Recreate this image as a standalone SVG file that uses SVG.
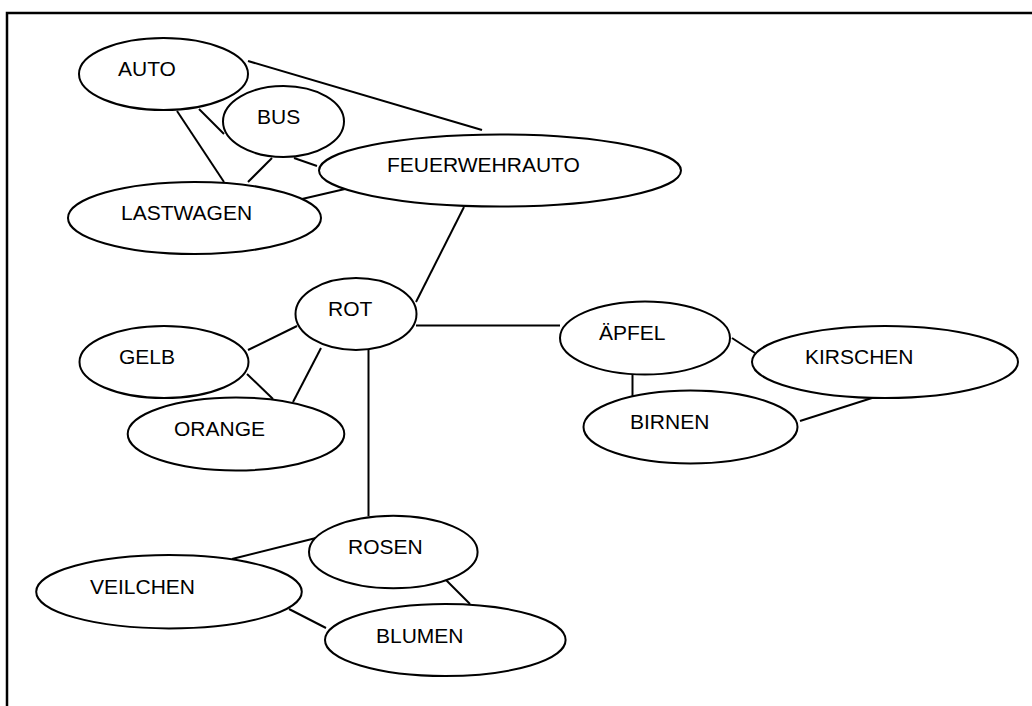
<svg xmlns="http://www.w3.org/2000/svg" width="1032" height="706" viewBox="0 0 1032 706">
  <style>
    .node ellipse { fill: #ffffff; stroke: #000000; stroke-width: 2; }
    .node text { font-family: "Liberation Sans", Arial, sans-serif; font-size: 21px; fill: #000000; }
    #connectors line { stroke: #000000; stroke-width: 2; }
    .frame { stroke: #000000; stroke-width: 2.5; fill: none; }
  </style>
  <rect width="1032" height="706" fill="#ffffff"/>
  <!-- page frame: top and left edges -->
  <path class="frame" d="M7,740 L7,13 L1040,13"/>

  <g id="connectors">
    <line x1="248" y1="61" x2="482" y2="130"/>
    <line x1="199" y1="109" x2="224" y2="134"/>
    <line x1="177" y1="111" x2="224" y2="182"/>
    <line x1="272" y1="158" x2="248" y2="182"/>
    <line x1="294" y1="158" x2="317" y2="166"/>
    <line x1="302" y1="199" x2="345" y2="189"/>
    <line x1="464" y1="207" x2="416" y2="302"/>
    <line x1="416" y1="325.5" x2="560" y2="325.5"/>
    <line x1="297" y1="326" x2="248" y2="350"/>
    <line x1="321" y1="348" x2="293" y2="402"/>
    <line x1="247" y1="374" x2="273" y2="399"/>
    <line x1="368.5" y1="350" x2="368.5" y2="516"/>
    <line x1="732" y1="338" x2="755" y2="353"/>
    <line x1="632.5" y1="374" x2="632.5" y2="397"/>
    <line x1="872" y1="398" x2="800" y2="421"/>
    <line x1="316" y1="538" x2="232" y2="559"/>
    <line x1="289" y1="609" x2="326" y2="628"/>
    <line x1="446" y1="580" x2="470" y2="604"/>
  </g>

  <g id="node-auto" class="node">
    <ellipse cx="163.5" cy="74" rx="84.5" ry="36"/>
    <text x="118" y="76">AUTO</text>
  </g>
  <g id="node-bus" class="node">
    <ellipse cx="283.5" cy="121.5" rx="60.5" ry="35.5"/>
    <text x="257" y="124">BUS</text>
  </g>
  <g id="node-lastwagen" class="node">
    <ellipse cx="194.5" cy="218" rx="126.5" ry="36"/>
    <text x="121" y="220">LASTWAGEN</text>
  </g>
  <g id="node-feuerwehrauto" class="node">
    <ellipse cx="500" cy="170.5" rx="181" ry="36"/>
    <text x="387" y="172">FEUERWEHRAUTO</text>
  </g>
  <g id="node-rot" class="node">
    <ellipse cx="356" cy="314" rx="60.5" ry="36"/>
    <text x="328" y="316">ROT</text>
  </g>
  <g id="node-gelb" class="node">
    <ellipse cx="164" cy="362" rx="84.5" ry="36"/>
    <text x="119" y="364">GELB</text>
  </g>
  <g id="node-orange" class="node">
    <ellipse cx="236" cy="434" rx="108.3" ry="36.5"/>
    <text x="174" y="436">ORANGE</text>
  </g>
  <g id="node-aepfel" class="node">
    <ellipse cx="645" cy="338" rx="85" ry="36.5"/>
    <text x="599" y="340">ÄPFEL</text>
  </g>
  <g id="node-kirschen" class="node">
    <ellipse cx="885" cy="362" rx="133" ry="36"/>
    <text x="805" y="364">KIRSCHEN</text>
  </g>
  <g id="node-birnen" class="node">
    <ellipse cx="690.5" cy="427" rx="107" ry="36.5"/>
    <text x="630" y="429">BIRNEN</text>
  </g>
  <g id="node-rosen" class="node">
    <ellipse cx="393.3" cy="552" rx="84.3" ry="36.3"/>
    <text x="348" y="554">ROSEN</text>
  </g>
  <g id="node-veilchen" class="node">
    <ellipse cx="169" cy="591.7" rx="132.8" ry="36.7"/>
    <text x="90" y="594">VEILCHEN</text>
  </g>
  <g id="node-blumen" class="node">
    <ellipse cx="445.3" cy="640" rx="120.3" ry="36"/>
    <text x="376" y="642.5">BLUMEN</text>
  </g>
</svg>
